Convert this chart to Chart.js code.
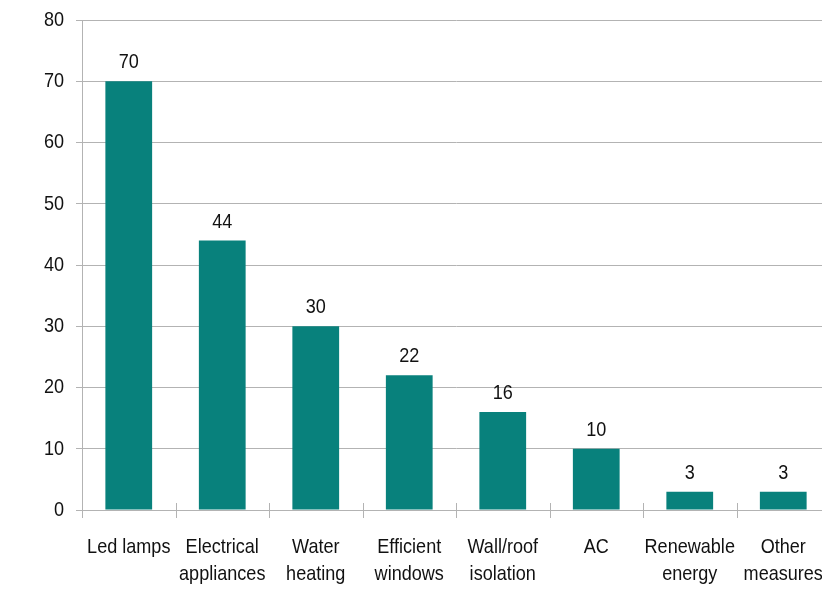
<!DOCTYPE html>
<html>
<head>
<meta charset="utf-8">
<script src="https://cdn.jsdelivr.net/npm/chart.js@4/dist/chart.umd.min.js"></script>
<style>
  html, body { margin: 0; padding: 0; overflow: hidden; background: #ffffff; }
  #wrap { position: absolute; left: 0; top: 0; width: 834px; height: 612px; }
</style>
</head>
<body>
<div id="wrap"><canvas id="c" width="834" height="612"></canvas></div>
<script>
const categories = [
  ["Led lamps"],
  ["Electrical", "appliances"],
  ["Water", "heating"],
  ["Efficient", "windows"],
  ["Wall/roof", "isolation"],
  ["AC"],
  ["Renewable", "energy"],
  ["Other", "measures"]
];
const values = [70, 44, 30, 22, 16, 10, 3, 3];
const yTicks = [0, 10, 20, 30, 40, 50, 60, 70, 80];

const FONT = "'Liberation Sans', Arial, sans-serif";
const FSIZE = 21;
const SX = 0.86;          // horizontal condensing of the text, as in the reference
const GRID = '#b3b3b3';
const TEXT = '#111111';

const condensedText = {
  id: 'condensedText',
  beforeDraw(chart) {
    const ctx = chart.ctx;
    if (ctx.__condensed) return;
    const orig = ctx.fillText;
    ctx.fillText = function (t, x, y, mw) {
      this.save();
      this.translate(x, y);
      this.scale(SX, 1);
      if (mw === undefined) orig.call(this, t, 0, 0);
      else orig.call(this, t, 0, 0, mw / SX);
      this.restore();
    };
    ctx.__condensed = true;
  }
};

const valueLabels = {
  id: 'valueLabels',
  afterDatasetsDraw(chart) {
    const ctx = chart.ctx;
    const meta = chart.getDatasetMeta(0);
    ctx.save();
    ctx.font = FSIZE + 'px ' + FONT;
    ctx.fillStyle = TEXT;
    ctx.textAlign = 'center';
    ctx.textBaseline = 'alphabetic';
    meta.data.forEach((bar, i) => {
      ctx.fillText(String(values[i]), bar.x, bar.y - 13);
    });
    ctx.restore();
  }
};

const crossTicks = {
  id: 'crossTicks',
  afterDraw(chart) {
    const x = chart.scales.x;
    const ctx = chart.ctx;
    const y0 = Math.round(chart.chartArea.bottom);
    ctx.save();
    ctx.strokeStyle = GRID;
    ctx.lineWidth = 1;
    ctx.beginPath();
    for (let i = 0; i <= categories.length; i++) {
      const px = Math.round(x.getPixelForValue(i - 0.5)) + 0.5;
      ctx.moveTo(px, y0 - 7);
      ctx.lineTo(px, y0 + 8);
    }
    ctx.stroke();
    ctx.restore();
  }
};

new Chart(document.getElementById('c'), {
  type: 'bar',
  data: {
    labels: categories,
    datasets: [{
      data: values,
      backgroundColor: '#08817c',
      borderWidth: 0,
      barPercentage: 0.5,
      categoryPercentage: 1.0
    }]
  },
  options: {
    responsive: false,
    animation: false,
    devicePixelRatio: 1,
    layout: { padding: { top: 20, right: 4, bottom: 0, left: 0 } },
    plugins: { legend: { display: false }, tooltip: { enabled: false } },
    scales: {
      x: {
        offset: true,
        grid: { display: false, offset: true },
        border: { display: true, color: GRID },
        ticks: {
          color: TEXT,
          font: { family: FONT, size: FSIZE, lineHeight: 1.31 },
          padding: 15,
          maxRotation: 0,
          autoSkip: false
        },
        afterFit(scale) {
          scale.height = 102;
          scale.paddingLeft = 0;
          scale.paddingRight = 0;
        }
      },
      y: {
        min: 0,
        max: 80,
        afterBuildTicks(scale) { scale.ticks = yTicks.map(v => ({ value: v })); },
        grid: { color: GRID, drawTicks: true, tickLength: 6 },
        border: { display: true, color: GRID },
        ticks: {
          color: TEXT,
          font: { family: FONT, size: FSIZE },
          padding: 12
        },
        afterFit(scale) {
          scale.width = 82;
          scale.paddingTop = 0;
          scale.paddingBottom = 0;
        }
      }
    }
  },
  plugins: [condensedText, valueLabels, crossTicks]
});
</script>
</body>
</html>
